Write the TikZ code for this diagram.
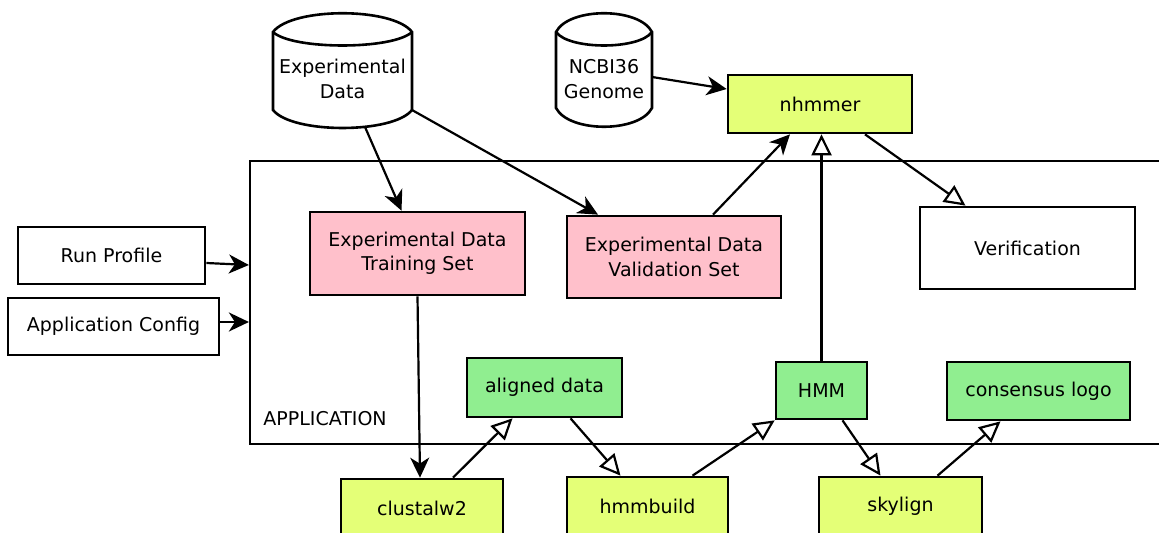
\documentclass[tikz,border=0pt]{standalone}
\usepackage{fontspec}
\setmainfont{DejaVu Sans}
\usetikzlibrary{arrows.meta,calc}
\definecolor{toolc}{HTML}{E4FF77}
\definecolor{datapink}{HTML}{FFC0CB}
\definecolor{artgreen}{HTML}{90EE90}
\begin{document}
\begin{tikzpicture}[x=0.5pt,y=-0.5pt,font=\fontsize{9.5}{12.2}\selectfont,
  sz/.style 2 args={minimum width=#1*0.5pt,minimum height=#2*0.5pt},
  box/.style={draw,line width=1.35pt,align=center,inner sep=0pt},
  toolbox/.style={box,fill=toolc},
  databox/.style={box,fill=datapink},
  artbox/.style={box,fill=artgreen},
  plainbox/.style={box,fill=white},
  frame/.style={draw,line width=1.1pt,inner sep=0pt},
  cylline/.style={line width=1.3pt,line join=miter},
  fa/.style={-{Stealth[length=10pt,width=9.5pt,inset=3pt]},line width=1.1pt},
  oa/.style={-{Triangle[open,fill=white,length=10.5pt,width=10pt,line width=1.1pt]},line width=1.1pt}]
\useasboundingbox (0,0) rectangle (1159,533);
\clip (0,0) rectangle (1159,533);

% application frame
\node[frame,sz={925}{283}] (app) at (712.5,302.5) {};
\node[anchor=west,inner sep=0pt] (applabel) at (263,419) {APPLICATION};

% cylinders
\draw[cylline,fill=white] (273,32) .. controls (292,7) and (393,7) .. (412,32) -- (412,110)
  .. controls (393,134) and (292,134) .. (273,110) -- cycle;
\draw[cylline] (273,32) .. controls (292,50) and (393,50) .. (412,32);
\node[align=center,inner sep=0pt] (expdata) at (342.5,79) {Experimental\\Data};
\coordinate (ed1) at (365,127);
\coordinate (ed2) at (412,110);

\draw[cylline,fill=white] (556,32) .. controls (569,7) and (639,7) .. (652,32) -- (652,108)
  .. controls (639,133) and (569,133) .. (556,108) -- cycle;
\draw[cylline] (556,32) .. controls (569,50) and (639,50) .. (652,32);
\node[align=center,inner sep=0pt] (ncbi) at (604,79) {NCBI36\\Genome};
\coordinate (nc1) at (652,77);

% boxes
\node[plainbox,sz={187}{57}] (runprofile) at (111.5,255.5) {Run Profile};
\node[plainbox,sz={211}{57}] (appconfig) at (113.5,326.5) {Application Config};
\node[databox,sz={215}{83}] (training) at (417.5,253.5) {Experimental Data\\Training Set};
\node[databox,sz={214}{82}] (validation) at (674,257) {Experimental Data\\Validation Set};
\node[plainbox,sz={215}{82}] (verification) at (1027.5,248) {Verification};
\node[toolbox,sz={184}{58}] (nhmmer) at (820,104) {nhmmer};
\node[artbox,sz={155}{59}] (aligned) at (544.5,387.5) {aligned data};
\node[artbox,sz={91}{57}] (hmm) at (821.5,390.5) {HMM};
\node[artbox,sz={183}{58}] (consensus) at (1038.5,391) {consensus logo};
\node[toolbox,sz={162}{58}] (clustal) at (422,508) {clustalw2};
\node[toolbox,sz={161}{58}] (hmmbuild) at (647.5,506) {hmmbuild};
\node[toolbox,sz={163}{58}] (skylign) at (900.5,506) {skylign};

% connectors
\draw[fa] (runprofile.east |- 0,263) -- (app.west |- 0,265);
\draw[fa] (appconfig.east |- 0,322) -- (app.west |- 0,322);
\draw[fa] (ed1) -- ($(training.north)+(-16,0)$);
\draw[fa] (ed2) -- ($(validation.north)+(-76,0)$);
\draw[fa] (nc1) -- ($(nhmmer.west)+(0,-15)$);
\draw[fa] ($(validation.north)+(39,0)$) -- ($(nhmmer.south)+(-30,0)$);
\draw[oa] (hmm.north) -- (hmm.north |- nhmmer.south);
\draw[oa] ($(nhmmer.south)+(45,0)$) -- ($(verification.north)+(-62,0)$);
\draw[fa] (training.south) -- ($(clustal.north)+(-2,0)$);
\draw[oa] ($(clustal.north)+(31,0)$) -- ($(aligned.south)+(-32,0)$);
\draw[oa] ($(aligned.south)+(26,0)$) -- ($(hmmbuild.north)+(-27,0)$);
\draw[oa] ($(hmmbuild.north)+(45,0)$) -- (hmm.south west);
\draw[oa] ($(hmm.south)+(21,0)$) -- ($(skylign.north)+(-20,0)$);
\draw[oa] ($(skylign.north)+(37,0)$) -- ($(consensus.south)+(-38,0)$);
\end{tikzpicture}
\end{document}
